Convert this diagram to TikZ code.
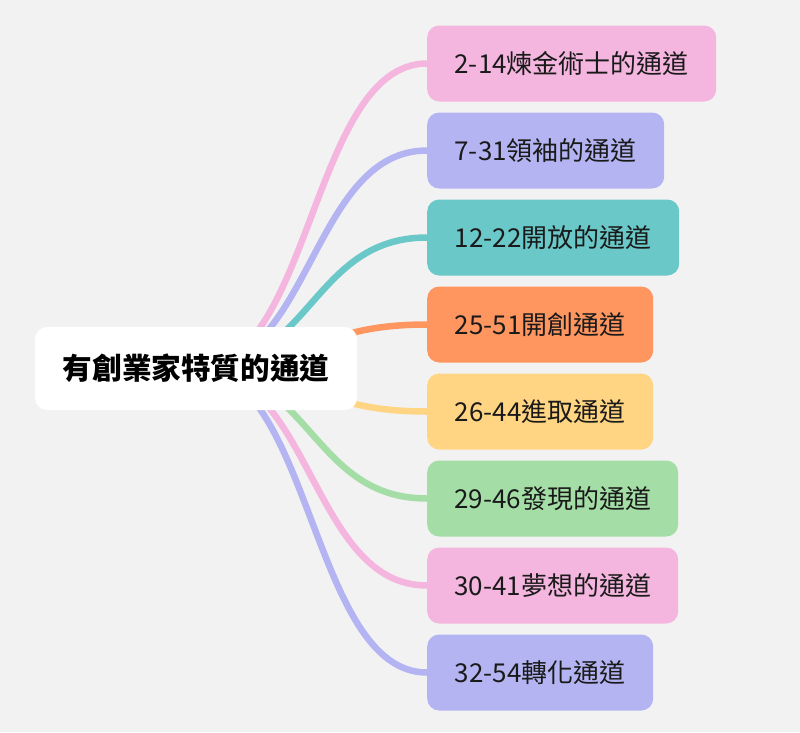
\documentclass[tikz,border=0pt]{standalone}
\usepackage{fontspec}
\setmainfont{Noto Sans CJK TC}
\definecolor{bgcol}{HTML}{F2F2F2}
\definecolor{txtcol}{HTML}{1A1A1A}
\definecolor{pinkc}{HTML}{F4B6DE}
\definecolor{lilac}{HTML}{B4B4F2}
\definecolor{teal}{HTML}{6AC8C8}
\definecolor{orangec}{HTML}{FF965F}
\definecolor{yellowc}{HTML}{FFD482}
\definecolor{greenc}{HTML}{A4DEA6}
\pgfdeclarelayer{paper}
\pgfdeclarelayer{wires}
\pgfsetlayers{paper,wires,main}
\tikzset{
  rootbox/.style={fill=white, rounded corners=12pt, minimum width=322pt, minimum height=83pt,
    inner sep=0pt, text=black, font=\fontsize{29.6}{31}\selectfont\bfseries},
  leafbox/.style={rounded corners=12pt, minimum height=76pt, inner sep=0pt, anchor=west,
    text=txtcol, font=\fontsize{26}{28}\selectfont},
  wire/.style={line width=6.5pt},
}

\begin{document}
\begin{tikzpicture}[x=1pt,y=-1pt]
			\begin{pgfonlayer}{paper}
			\fill[bgcol] (0,0) rectangle (800,732);
			\end{pgfonlayer}
			
			\node[rootbox] (root) at (196,368.5) {有創業家特質的通道};
			
			\node[leafbox, fill=pinkc, minimum width=289pt] (c1) at (427,63.5) {2-14煉金術士的通道};
			\node[leafbox, fill=lilac, minimum width=237pt] (c2) at (427,150.5) {7-31領袖的通道};
			\node[leafbox, fill=teal, minimum width=252pt] (c3) at (427,237.5) {12-22開放的通道};
			\node[leafbox, fill=orangec, minimum width=226pt] (c4) at (427,324.5) {25-51開創通道};
			\node[leafbox, fill=yellowc, minimum width=226pt] (c5) at (427,411.5) {26-44進取通道};
			\node[leafbox, fill=greenc, minimum width=251pt] (c6) at (427,498.5) {29-46發現的通道};
			\node[leafbox, fill=pinkc, minimum width=251pt] (c7) at (427,585.5) {30-41夢想的通道};
			\node[leafbox, fill=lilac, minimum width=226pt] (c8) at (427,672.5) {32-54轉化通道};
			
			\begin{pgfonlayer}{wires}
			\draw [wire, pinkc] (root.center) .. controls +(115.5,0) and +(-115.5,0) .. (c1.west);
			\draw [wire, lilac] (root.center) .. controls +(115.5,0) and +(-115.5,0) .. (c2.west);
			\draw [wire, teal] (root.center) .. controls +(115.5,0) and +(-115.5,0) .. (c3.west);
			\draw [wire, orangec] (root.center) .. controls +(115.5,0) and +(-115.5,0) .. (c4.west);
			\draw [wire, yellowc] (root.center) .. controls +(115.5,0) and +(-115.5,0) .. (c5.west);
			\draw [wire, greenc] (root.center) .. controls +(115.5,0) and +(-115.5,0) .. (c6.west);
			\draw [wire, pinkc] (root.center) .. controls +(115.5,0) and +(-115.5,0) .. (c7.west);
			\draw [wire, lilac] (root.center) .. controls +(115.5,0) and +(-115.5,0) .. (c8.west);
			\end{pgfonlayer}
\end{tikzpicture}
\end{document}
